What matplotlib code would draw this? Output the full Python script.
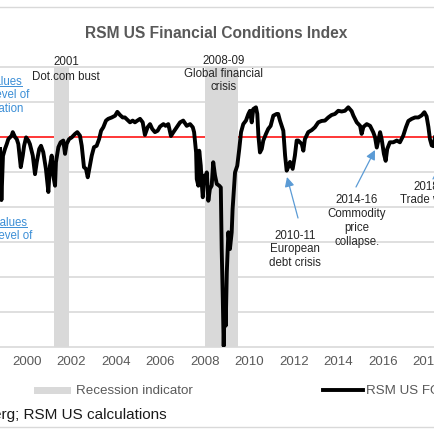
import matplotlib
matplotlib.use('Agg')
import matplotlib.pyplot as plt
from matplotlib.lines import Line2D
from matplotlib.patches import Rectangle, FancyArrowPatch

plt.rcParams['font.family'] = ['Liberation Sans', 'DejaVu Sans']

# ---- data ----
years = [1998.79, 1998.85, 1998.92, 1999.01, 1999.09, 1999.16, 1999.31, 1999.36, 1999.46, 1999.54,
         1999.61, 1999.72, 1999.81, 1999.87, 1999.96, 2000.06, 2000.13, 2000.26, 2000.36, 2000.44,
         2000.55, 2000.63, 2000.73, 2000.85, 2000.96, 2001.03, 2001.11, 2001.18, 2001.26, 2001.30,
         2001.41, 2001.51, 2001.63, 2001.71, 2001.78, 2001.89, 2002.01, 2002.16, 2002.26, 2002.38,
         2002.46, 2002.56, 2002.65, 2002.73, 2002.80, 2002.91, 2003.01, 2003.13, 2003.24, 2003.33,
         2003.43, 2003.55, 2003.65, 2003.81, 2003.96, 2004.06, 2004.18, 2004.30, 2004.40, 2004.55,
         2004.63, 2004.75, 2004.85, 2004.96, 2005.08, 2005.20, 2005.30, 2005.42, 2005.53, 2005.63,
         2005.75, 2005.87, 2005.98, 2006.13, 2006.23, 2006.35, 2006.47, 2006.58, 2006.73, 2006.88,
         2007.02, 2007.18, 2007.33, 2007.45, 2007.51, 2007.60, 2007.63, 2007.70, 2007.74, 2007.81,
         2007.85, 2007.90, 2007.96, 2008.00, 2008.08, 2008.15, 2008.22, 2008.30, 2008.37, 2008.45,
         2008.53, 2008.64, 2008.71, 2008.75, 2008.80, 2008.84, 2008.89, 2008.93, 2008.98, 2009.05,
         2009.12, 2009.20, 2009.24, 2009.35, 2009.45, 2009.54, 2009.62, 2009.72, 2009.84, 2009.95,
         2010.02, 2010.10, 2010.17, 2010.29, 2010.35, 2010.40, 2010.47, 2010.55, 2010.62, 2010.74,
         2010.84, 2010.95, 2011.07, 2011.22, 2011.29, 2011.37, 2011.45, 2011.52, 2011.60, 2011.67,
         2011.74, 2011.82, 2011.94, 2012.04, 2012.12, 2012.19, 2012.35, 2012.42, 2012.49, 2012.64,
         2012.80, 2012.94, 2013.09, 2013.24, 2013.39, 2013.54, 2013.69, 2013.84, 2013.99, 2014.14,
         2014.29, 2014.44, 2014.59, 2014.67, 2014.82, 2014.97, 2015.04, 2015.12, 2015.27, 2015.42,
         2015.56, 2015.64, 2015.72, 2015.79, 2015.87, 2015.94, 2016.04, 2016.12, 2016.19, 2016.31,
         2016.46, 2016.62, 2016.76, 2016.91, 2017.03, 2017.14, 2017.29, 2017.44, 2017.59, 2017.74,
         2017.86, 2017.96, 2018.04, 2018.11, 2018.19, 2018.26, 2018.34]
fci = [-0.35, -1.81, -0.55, -0.35, -0.21, -0.07, 0.03, 0.13, -0.01, -0.07,
       -0.21, -0.87, -0.54, -0.26, -0.02, -0.11, -0.21, -0.54, -1.07, -0.72,
       -0.35, -0.26, -0.44, -0.92, -1.58, -0.83, -0.54, -1.11, -1.40, -0.73,
       -0.30, -0.16, -0.11, -0.49, -0.21, -0.07, -0.02, 0.08, 0.13, 0.03,
       -0.26, -0.87, -0.92, -1.16, -0.92, -0.54, -0.30, -0.26, -0.07, 0.17,
       0.27, 0.46, 0.51, 0.55, 0.60, 0.71, 0.62, 0.55, 0.55, 0.46,
       0.41, 0.46, 0.41, 0.46, 0.51, 0.41, 0.05, 0.27, 0.36, 0.22,
       0.13, 0.17, 0.29, 0.36, 0.31, 0.36, 0.02, 0.13, 0.27, 0.41,
       0.46, 0.31, 0.36, 0.27, 0.13, -0.45, -1.21, -1.40, -0.40, -0.83,
       -1.30, -1.73, -1.11, -1.30, -1.02, -1.83, -1.49, -1.40, -0.73, -1.11,
       -1.35, -1.40, -1.45, -3.21, -4.64, -5.98, -4.54, -5.40, -3.87, -2.73,
       -3.21, -2.73, -2.07, -1.02, -0.83, -0.35, 0.13, 0.36, 0.46, 0.65,
       0.74, 0.41, 0.79, 0.84, 0.65, 0.03, -0.45, -0.35, -0.11, 0.08,
       0.22, 0.31, 0.60, 0.65, 0.65, 0.46, 0.31, 0.17, -0.54, -0.97,
       -0.87, -0.72, -0.92, -0.54, -0.11, -0.11, -0.21, -0.40, -0.07, 0.13,
       0.19, 0.27, 0.41, 0.45, 0.46, 0.55, 0.62, 0.65, 0.74, 0.72,
       0.74, 0.84, 0.73, 0.60, 0.41, 0.31, 0.08, 0.28, 0.36, 0.31,
       0.13, -0.01, -0.31, -0.11, 0.13, -0.07, -0.49, -0.69, -0.35, -0.16,
       -0.16, -0.11, -0.16, 0.03, 0.27, 0.45, 0.51, 0.55, 0.55, 0.61,
       0.70, 0.58, 0.28, -0.07, -0.25, -0.27, -0.01]
recessions = [(2001.21, 2001.88), (2007.98, 2009.48)]
tick_years = list(range(2000, 2020, 2))
tick_labels = [str(y) for y in tick_years]
ygrid = [-5, -4, -3, -2, -1, 1]

W = H = 435.0
GRID = '#d9d9d9'
TXT = '#595959'
ANN = '#262626'
BLUE = '#3B8ED6'
ARROW = '#5B9BD5'

def fx(px):
    return px / W
def fy(py):
    return 1 - py / H

fig = plt.figure(figsize=(4.35, 4.35), dpi=100)

ax = fig.add_axes([0.0, fy(347.7), 1.0, (347.7 - 67.7) / H])
ax.set_xlim(1998.7865, 2018.337)
ax.set_ylim(-6, 2)
ax.set_yticks(ygrid)
ax.yaxis.grid(True, color=GRID, lw=1.2)
ax.set_axisbelow(True)
ax.tick_params(axis='y', left=False, labelleft=False)
ax.axhline(0, color='red', lw=1.1, zorder=1.5)
for a, b in recessions:
    ax.axvspan(a, b, facecolor=GRID, edgecolor='none', zorder=1.8)
ax.plot(years, fci, color='black', lw=2.8, solid_joinstyle='round', zorder=3)

ax.spines['left'].set_visible(False)
ax.spines['right'].set_visible(False)
for s in ('top', 'bottom'):
    ax.spines[s].set_color(GRID)
    ax.spines[s].set_linewidth(1.2)
ax.set_xticks(tick_years)
ax.set_xticklabels(tick_labels)
ax.tick_params(axis='x', length=0, pad=6, labelsize=9.5, labelcolor=TXT)

# title
fig.text(fx(216), fy(33), 'RSM US Financial Conditions Index', ha='center', va='center',
         fontsize=11.2, fontweight='bold', color=TXT)

# event labels
fig.text(fx(66), fy(69.5), '2001\nDot.com bust', ha='center', va='center',
         fontsize=8.3, color=ANN, linespacing=1.35)
fig.text(fx(223.5), fy(74), '2008-09\nGlobal financial\ncrisis', ha='center', va='center',
         fontsize=8.3, color=ANN, linespacing=1.1)
fig.text(fx(295), fy(249.5), '2010-11\nEuropean\ndebt crisis', ha='center', va='center',
         fontsize=8.3, color=ANN, linespacing=1.2)
fig.text(fx(357), fy(221), '2014-16\nCommodity\nprice\ncollapse.', ha='center', va='center',
         fontsize=8.3, color=ANN, linespacing=1.2)
fig.text(fx(426), fy(193.5), '2018\nTrade war', ha='center', va='center',
         fontsize=8.3, color=ANN, linespacing=1.2)

# arrows
def arrow(tail, tip):
    fig.patches.append(FancyArrowPatch(
        (fx(tail[0]), fy(tail[1])), (fx(tip[0]), fy(tip[1])), transform=fig.transFigure,
        arrowstyle='-|>', color=ARROW, lw=0.9, mutation_scale=14, shrinkA=0, shrinkB=0))
arrow((298, 219), (287, 178))
arrow((356, 188), (375, 151))
arrow((433, 180), (450, 148))

# blue notes (cut off at the left edge, as in the original crop)
notes = [('Positive values', 22, 81.7), ('indicate a level of', 29, 95), ('accommodation', 24, 109),
         ('Negative values', 27, 222.7), ('indicate a level of', 32, 236)]
for s, xr, yc in notes:
    fig.text(fx(xr), fy(yc), s, ha='right', va='center', fontsize=8.3, color=BLUE)
fig.lines.append(Line2D([0, fx(22)], [fy(86.5), fy(86.5)], color=BLUE, lw=0.7,
                        transform=fig.transFigure))
fig.lines.append(Line2D([0, fx(27)], [fy(227.5), fy(227.5)], color=BLUE, lw=0.7,
                        transform=fig.transFigure))

# frame lines
fig.lines.append(Line2D([0, 1], [fy(7.5), fy(7.5)], color=GRID, lw=1.0, transform=fig.transFigure))
fig.lines.append(Line2D([0, 1], [fy(428), fy(428)], color=GRID, lw=1.0, transform=fig.transFigure))

# legend
fig.patches.append(Rectangle((fx(34), fy(394.5)), fx(71) - fx(34), 7.0 / H,
                             facecolor=GRID, edgecolor='none', transform=fig.transFigure))
fig.text(fx(76), fy(391), 'Recession indicator', ha='left', va='center', fontsize=9.6, color=TXT)
fig.lines.append(Line2D([fx(323), fx(363)], [fy(391), fy(391)], color='black', lw=2.8,
                        transform=fig.transFigure))
fig.text(fx(366), fy(391), 'RSM US FCI', ha='left', va='center', fontsize=9.6, color=TXT)

# source
fig.text(fx(167), fy(415), 'Source: Bloomberg; RSM US calculations', ha='right', va='center',
         fontsize=11, color='#1a1a1a')

fig.savefig('out.png', dpi=100)
